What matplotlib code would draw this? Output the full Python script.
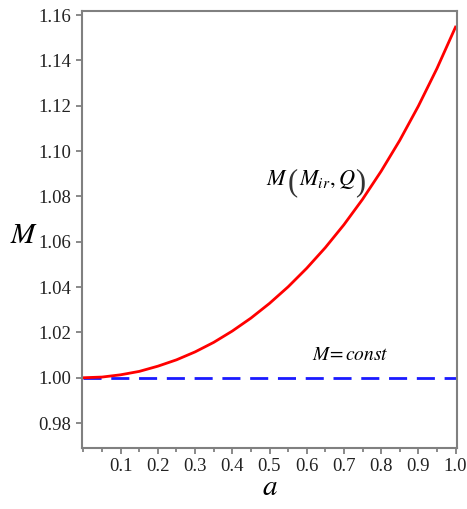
import matplotlib
matplotlib.use('Agg')
import matplotlib.pyplot as plt
import matplotlib.ticker as mtick

matplotlib.rc('font', family='Liberation Serif')
matplotlib.rc('mathtext', fontset='stix')

# values
a_vals = [0.00, 0.05, 0.10, 0.15, 0.20, 0.25, 0.30, 0.35, 0.40, 0.45, 0.50,
          0.55, 0.60, 0.65, 0.70, 0.75, 0.80, 0.85, 0.90, 0.95, 1.00]
M_vals = [1.0000, 1.0003, 1.0013, 1.0028, 1.0051, 1.0079, 1.0114, 1.0156,
          1.0206, 1.0263, 1.0328, 1.0401, 1.0483, 1.0574, 1.0675, 1.0787,
          1.0911, 1.1047, 1.1198, 1.1364, 1.1547]
const_a = [0.0, 1.0]
const_M = [1.0, 1.0]

xticks = [0.1, 0.2, 0.3, 0.4, 0.5, 0.6, 0.7, 0.8, 0.9, 1.0]
yticks = [0.98, 1.00, 1.02, 1.04, 1.06, 1.08, 1.10, 1.12, 1.14, 1.16]

fig = plt.figure(figsize=(4.67, 5.09), dpi=100)
ax = fig.add_axes([82/467, 61/509, 375/467, 437/509])

ax.plot(const_a, const_M, color='#1a1aff', lw=2, dashes=(6.5, 3.5))
ax.plot(a_vals, M_vals, color='red', lw=2)

ax.set_xlim(-0.004, 1.004)
ax.set_ylim(0.969, 1.1618)
ax.set_xticks(xticks)
ax.set_xticklabels(['%.1f' % v for v in xticks])
ax.xaxis.set_minor_locator(mtick.MultipleLocator(0.05))
ax.set_yticks(yticks)
ax.set_yticklabels(['%.2f' % v for v in yticks])

for s in ax.spines.values():
    s.set_color('#808080')
    s.set_linewidth(1.5)
ax.tick_params(which='both', direction='out', color='#808080', width=1.3,
               labelsize=13.5, labelcolor='#222222')
ax.tick_params(which='major', length=4)
ax.tick_params(which='minor', length=3)

ax.set_xlabel('$a$', fontsize=21, labelpad=0)
ax.set_ylabel('$M$', fontsize=21, rotation=0, va='center')
ax.yaxis.set_label_coords(-0.155, 0.485)

# curve label, with tall brackets drawn as separate pieces
yb = 1.0849
ax.text(0.490, yb, '$M$', fontsize=16, va='baseline')
ax.text(0.549, yb - 0.0022, '(', fontsize=22, va='baseline', color='#333333')
ax.text(0.578, yb, r'$M_{ir},Q$', fontsize=16, va='baseline')
ax.text(0.730, yb - 0.0022, ')', fontsize=22, va='baseline', color='#333333')

ax.text(0.717, 1.0099, r'$M\!=const$', fontsize=14, ha='center', va='center')

plt.savefig('out.png', dpi=100)
